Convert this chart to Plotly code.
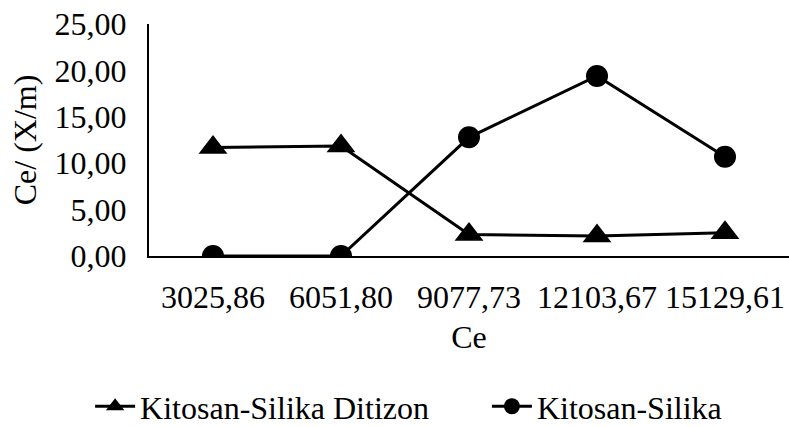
import plotly.graph_objects as go

# Equilibrium concentration categories and Ce/(X/m) values
categories = ["3025,86", "6051,80", "9077,73", "12103,67", "15129,61"]
ditizon = [11.68, 11.85, 2.32, 2.16, 2.51]
silika = [0.0, 0.0, 12.79, 19.40, 10.70]

FONT = "Times New Roman, Liberation Serif, Tinos, DejaVu Serif, serif"
FS = 32

fig = go.Figure()
fig.add_trace(go.Scatter(
    x=categories, y=ditizon, name="Kitosan-Silika Ditizon",
    mode="lines+markers",
    line=dict(color="black", width=3),
    marker=dict(symbol="triangle-up", size=25, color="black"),
    legend="legend",
))
fig.add_trace(go.Scatter(
    x=categories, y=silika, name="Kitosan-Silika",
    mode="lines+markers",
    line=dict(color="black", width=3),
    marker=dict(symbol="circle", size=22, color="black"),
    legend="legend2",
))

legend_style = dict(
    orientation="h", xanchor="left", y=-0.530, yanchor="top",
    font=dict(family=FONT, size=FS, color="black"),
    itemwidth=40, bgcolor="rgba(0,0,0,0)",
)

fig.update_layout(
    width=789, height=427,
    margin=dict(l=149, r=0, t=24, b=171, autoexpand=False),
    paper_bgcolor="white", plot_bgcolor="white",
    separators=",.",
    font=dict(family=FONT, size=FS, color="black"),
    showlegend=True,
    legend=dict(x=-0.092, **legend_style),
    legend2=dict(x=0.528, **legend_style),
)
fig.update_xaxes(
    type="category", range=[-0.5, 4.5],
    showline=True, linecolor="black", linewidth=2,
    showgrid=False, ticks="", ticklabelstandoff=12,
    tickfont=dict(family=FONT, size=FS, color="black"),
    title=dict(text="Ce", font=dict(family=FONT, size=FS, color="black"), standoff=11),
)
fig.update_yaxes(
    range=[0, 25], dtick=5, tickformat=".2f",
    showline=True, linecolor="black", linewidth=2,
    showgrid=False, zeroline=False, ticks="", ticklabelstandoff=14,
    tickfont=dict(family=FONT, size=FS, color="black"),
    title=dict(text="Ce/ (X/m)", font=dict(family=FONT, size=FS, color="black"), standoff=8),
)

fig.write_html("out.html")
